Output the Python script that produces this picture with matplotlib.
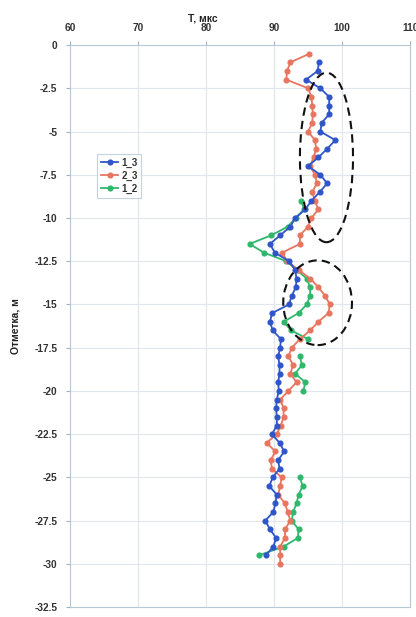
import matplotlib
matplotlib.use('Agg')
import numpy as np
import matplotlib.pyplot as plt
from matplotlib.patches import Ellipse

plt.rcParams['font.family'] = ['Liberation Sans', 'DejaVu Sans']
plt.rcParams['font.size'] = 7

# depth grid (m) and travel time T (мкс) per series
depth_13 = [-1.0, -1.5, -2.0, -2.5, -3.0, -3.5, -4.0, -4.5, -5.0, -5.5,
            -6.0, -6.5, -7.0, -7.5, -8.0, -8.5, -9.0, -9.5, -10.0, -10.5,
            -11.0, -11.5, -12.0, -12.5, -13.0, -13.5, -14.0, -14.5, -15.0, -15.5,
            -16.0, -16.5, -17.0, -17.5, -18.0, -18.5, -19.0, -19.5, -20.0, -20.5,
            -21.0, -21.5, -22.0, -22.5, -23.0, -23.5, -24.0, -24.5, -25.0, -25.5,
            -26.0, -26.5, -27.0, -27.5, -28.0, -28.5, -29.0, -29.5]
t_13 = [96.6, 96.4, 94.7, 96.8, 98.1, 98.1, 98.1, 97.0, 96.8, 99.0,
        97.8, 96.5, 95.0, 96.8, 97.8, 96.7, 95.5, 94.6, 93.1, 92.4,
        90.9, 89.4, 90.1, 92.2, 93.1, 93.3, 93.2, 92.6, 92.2, 89.7,
        89.4, 89.8, 91.0, 90.9, 90.6, 90.8, 90.8, 90.6, 90.7, 90.4,
        90.3, 90.4, 90.4, 89.7, 90.8, 91.5, 90.6, 90.8, 89.8, 89.3,
        90.4, 90.2, 89.9, 88.7, 89.4, 90.3, 89.9, 88.8]

depth_23 = [-0.5, -1.0, -1.5, -2.0, -2.5, -3.0, -3.5, -4.0, -4.5, -5.0,
            -5.5, -6.0, -6.5, -7.0, -7.5, -8.0, -8.5, -9.0, -9.5, -10.0,
            -10.5, -11.0, -11.5, -12.0, -12.5, -13.0, -13.5, -14.0, -14.5, -15.0,
            -15.5, -16.0, -16.5, -17.0, -17.5, -18.0, -18.5, -19.0, -19.5, -20.0,
            -20.5, -21.0, -21.5, -22.0, -22.5, -23.0, -23.5, -24.0, -24.5, -25.0,
            -25.5, -26.0, -26.5, -27.0, -27.5, -28.0, -28.5, -29.0, -29.5, -30.0]
t_23 = [95.2, 92.4, 91.9, 91.8, 95.0, 95.5, 95.6, 95.7, 95.6, 95.0,
        96.0, 96.2, 95.8, 95.3, 96.0, 96.3, 95.6, 96.0, 96.5, 95.5,
        95.0, 93.8, 93.8, 91.2, 91.9, 93.6, 95.3, 96.5, 97.5, 98.2,
        98.0, 96.5, 95.3, 93.8, 92.6, 92.1, 92.8, 92.4, 93.3, 92.1,
        90.9, 91.4, 91.4, 91.0, 90.4, 88.9, 90.2, 89.5, 89.7, 91.1,
        90.9, 90.6, 91.6, 92.0, 92.4, 91.6, 91.6, 90.9, 90.9, 90.9]

depth_12 = [-9.0, -9.5, -10.0, -10.5, -11.0, -11.5, -12.0, -12.5, -13.0, -13.5,
            -14.0, -14.5, -15.0, -15.5, -16.0, -16.5, -17.0, -17.5, -18.0, -18.5,
            -19.0, -19.5, -20.0, -20.5, -25.0, -25.5, -26.0, -26.5, -27.0, -27.5,
            -28.0, -28.5, -29.0, -29.5]
t_12 = [94.0, 94.4, 93.2, 92.0, 89.6, 86.4, 88.5, 91.8, 93.3, 94.8,
        95.3, 95.3, 94.8, 93.6, 91.4, 92.5, 95.0, np.nan, 93.8, 94.1,
        93.1, 94.6, 94.3, np.nan, 93.8, 94.2, 93.6, 93.3, 92.8, 92.6,
        93.6, 93.5, 91.4, 87.8]

series_labels = ['1_3', '2_3', '1_2']
x_ticks = [60, 70, 80, 90, 100, 110]
y_ticks = [0, -2.5, -5, -7.5, -10, -12.5, -15, -17.5, -20, -22.5, -25, -27.5, -30, -32.5]

BLUE = '#2e55c9'
RED = '#e87560'
GREEN = '#2fb86c'

fig = plt.figure(figsize=(4.16, 6.17), dpi=100)
ax = fig.add_axes([0.168, 0.016, 0.818, 0.911])

l1, = ax.plot(t_13, depth_13, '-o', color=BLUE, lw=1.3, ms=3.4, zorder=4, label=series_labels[0])
l2, = ax.plot(t_23, depth_23, '-o', color=RED, lw=1.3, ms=3.4, zorder=3, label=series_labels[1])
l3, = ax.plot(t_12, depth_12, '-o', color=GREEN, lw=1.3, ms=3.4, zorder=2, label=series_labels[2])

# пунктирные эллипсы - аномальные зоны
ax.add_patch(Ellipse((97.7, -6.5), 7.8, 9.8, fill=False, ls=(0, (4, 2.5)), lw=1.5, ec='#111111', zorder=5))
ax.add_patch(Ellipse((96.4, -14.9), 10.1, 4.9, fill=False, ls=(0, (4, 2.5)), lw=1.5, ec='#111111', zorder=5))

ax.set_xlim(60, 110)
ax.set_ylim(-32.5, 0)
ax.set_xticks(x_ticks)
ax.set_yticks(y_ticks)
ax.set_yticklabels([('%g' % v) for v in y_ticks])
ax.xaxis.tick_top()
ax.tick_params(axis='both', length=3, color='#9fb3c8', labelsize=7.3, labelcolor='#333333', pad=6)
for lab in ax.get_xticklabels() + ax.get_yticklabels():
    lab.set_fontweight('bold')
ax.grid(True, color='#e1e6ec', lw=0.8)
for s in ax.spines.values():
    s.set_color('#b8c8d8')
    s.set_linewidth(0.8)

ax.text(0.39, 1.048, 'T, мкс', transform=ax.transAxes, ha='center', va='center',
        fontsize=7.5, fontweight='bold', color='#222222')
ax.set_ylabel('Отметка, м', fontsize=7.5, fontweight='bold', color='#222222', labelpad=10)

leg = ax.legend(handles=[l1, l2, l3], loc='upper left', bbox_to_anchor=(0.065, 0.815),
                frameon=True, fancybox=False, fontsize=7, handlelength=1.8,
                handletextpad=0.3, borderpad=0.4, labelspacing=0.3)
leg.get_frame().set_edgecolor('#b8c8d8')
leg.get_frame().set_linewidth(0.8)
for t in leg.get_texts():
    t.set_fontweight('bold')
    t.set_color('#333333')

fig.savefig('out.png', dpi=100)
